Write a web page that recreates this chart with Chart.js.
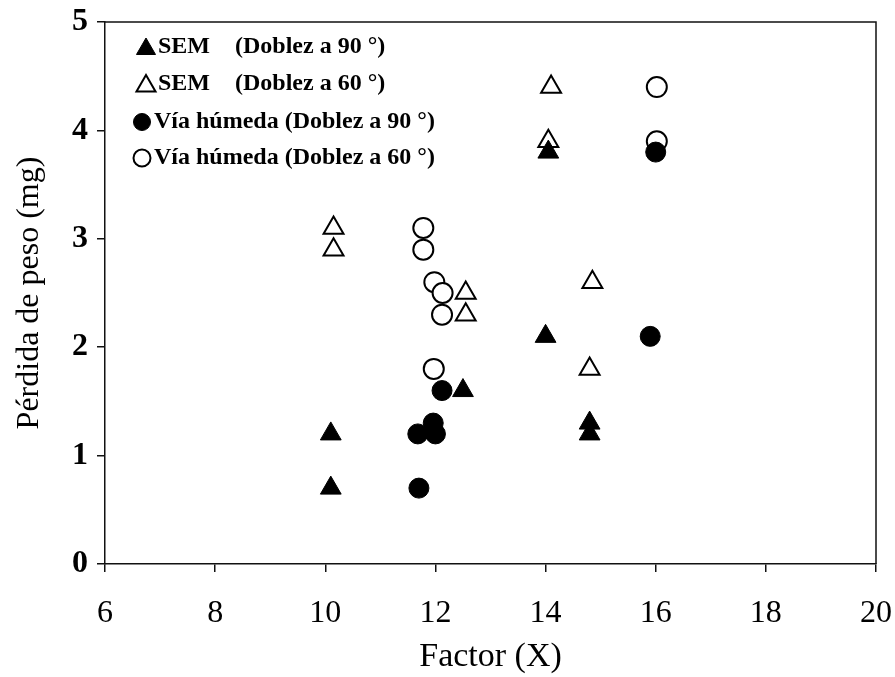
<!DOCTYPE html>
<html>
<head>
<meta charset="utf-8">
<script src="https://cdn.jsdelivr.net/npm/chart.js@4.4.0/dist/chart.umd.min.js"></script>
<style>
    html, body { margin: 0; padding: 0; background: #ffffff; }
    #wrap { width: 895px; height: 677px; position: relative; }
</style>
</head>
<body>
<div id="wrap"><canvas id="chart" width="895" height="677"></canvas></div>
<script>
// Pérdida de peso vs Factor (X)

const xTicks = [6, 8, 10, 12, 14, 16, 18, 20];
const yTicks = [0, 1, 2, 3, 4, 5];

const semName = 'SEM';
const viaName = 'Vía húmeda';
const note90 = '(Doblez a 90 °)';
const note60 = '(Doblez a 60 °)';

// SEM, doblez a 90 (filled triangles)
const sem90X = [10.1, 10.1, 12.5, 14.0, 14.05, 14.8, 14.8];
const sem90Y = [1.2, 0.7, 1.6, 2.1, 3.8, 1.3, 1.2];

// SEM, doblez a 60 (open triangles)
const sem60X = [10.15, 10.15, 12.55, 12.55, 14.1, 14.05, 14.85, 14.8];
const sem60Y = [3.1, 2.9, 2.5, 2.3, 4.4, 3.9, 2.6, 1.8];

// Vía húmeda, doblez a 90 (filled circles)
const via90X = [11.68, 11.96, 12.0, 11.7, 12.12, 15.9, 16.0];
const via90Y = [1.2, 1.3, 1.2, 0.7, 1.6, 2.1, 3.8];

// Vía húmeda, doblez a 60 (open circles)
const via60X = [11.78, 11.78, 11.98, 12.13, 12.12, 11.97, 16.02, 16.02];
const via60Y = [3.1, 2.9, 2.6, 2.5, 2.3, 1.8, 4.4, 3.9];

const FONT = "'Liberation Serif', 'Times New Roman', serif";

function toPoints(xs, ys) {
    return xs.map((x, i) => ({ x: x, y: ys[i] }));
}

function makeSet(name, note, xs, ys, style, filled, radius) {
    return {
        label: name + ' ' + note,
        name: name,
        note: note,
        data: toPoints(xs, ys),
        pointStyle: style,
        pointRadius: radius,
        pointHoverRadius: radius,
        backgroundColor: filled ? '#000000' : '#ffffff',
        borderColor: '#000000',
        borderWidth: filled ? 1 : 2,
        showLine: false
    };
}

// Box round the plot area
const framePlugin = {
    id: 'frame',
    afterDraw(chart) {
        const a = chart.chartArea;
        const ctx = chart.ctx;
        ctx.save();
        ctx.strokeStyle = '#111111';
        ctx.lineWidth = 1.5;
        ctx.beginPath();
        ctx.moveTo(a.left, a.top);
        ctx.lineTo(a.right, a.top);
        ctx.lineTo(a.right, a.bottom);
        ctx.stroke();
        ctx.restore();
    }
};

// Legend inside the plot, top left
const legendPlugin = {
    id: 'insideLegend',
    afterDraw(chart) {
        const ctx = chart.ctx;
        const rows = [47, 84, 122, 158];
        ctx.save();
        ctx.font = 'bold 24px ' + FONT;
        ctx.textBaseline = 'middle';
        chart.data.datasets.forEach((ds, i) => {
            const y = rows[i];
            const isTri = ds.pointStyle === 'triangle';
            const mx = isTri ? 146 : 142;
            ctx.fillStyle = ds.backgroundColor;
            ctx.strokeStyle = '#000000';
            ctx.lineWidth = ds.borderWidth;
            ctx.beginPath();
            if (isTri) {
                const r = 11;
                const cy = y + 2;
                ctx.moveTo(mx, cy - r);
                ctx.lineTo(mx + r * 0.866, cy + r * 0.5);
                ctx.lineTo(mx - r * 0.866, cy + r * 0.5);
                ctx.closePath();
            } else {
                ctx.arc(mx, y, 8.5, 0, Math.PI * 2);
            }
            ctx.fill();
            ctx.stroke();
            ctx.fillStyle = '#000000';
            const tx = isTri ? 158 : 154;
            ctx.fillText(ds.name, tx, y);
            const nameW = ctx.measureText(ds.name + ' ').width;
            ctx.fillText(ds.note, Math.max(235, tx + nameW), y);
        });
        ctx.restore();
    }
};

const ctx = document.getElementById('chart');
new Chart(ctx, {
    type: 'scatter',
    data: {
        datasets: [
            makeSet(semName, note90, sem90X, sem90Y, 'triangle', true, 12),
            makeSet(semName, note60, sem60X, sem60Y, 'triangle', false, 11.5),
            makeSet(viaName, note90, via90X, via90Y, 'circle', true, 10),
            makeSet(viaName, note60, via60X, via60Y, 'circle', false, 10)
        ]
    },
    options: {
        responsive: false,
        animation: false,
        layout: {
            padding: { top: 22, right: 19, left: 0, bottom: 0 }
        },
        plugins: {
            legend: { display: false },
            tooltip: { enabled: false }
        },
        scales: {
            x: {
                type: 'linear',
                min: xTicks[0],
                max: xTicks[xTicks.length - 1],
                afterBuildTicks: scale => {
                    scale.ticks = xTicks.map(v => ({ value: v }));
                },
                afterFit: scale => {
                    scale.height = 113;
                    scale.paddingLeft = 0;
                    scale.paddingRight = 0;
                },
                grid: {
                    drawOnChartArea: false,
                    drawTicks: true,
                    tickLength: 8,
                    color: '#111111',
                    lineWidth: 1.5
                },
                border: { display: true, color: '#111111', width: 1.5 },
                ticks: {
                    color: '#000000',
                    padding: 22,
                    font: { family: FONT, size: 32 }
                },
                title: {
                    display: true,
                    text: 'Factor (X)',
                    color: '#000000',
                    padding: { top: 4, bottom: 0 },
                    font: { family: FONT, size: 34 }
                }
            },
            y: {
                type: 'linear',
                min: yTicks[0],
                max: yTicks[yTicks.length - 1],
                afterBuildTicks: scale => {
                    scale.ticks = yTicks.map(v => ({ value: v }));
                },
                afterFit: scale => {
                    scale.width = 105;
                    scale.paddingTop = 0;
                    scale.paddingBottom = 0;
                },
                grid: {
                    drawOnChartArea: false,
                    drawTicks: true,
                    tickLength: 8,
                    color: '#111111',
                    lineWidth: 1.5
                },
                border: { display: true, color: '#111111', width: 1.5 },
                ticks: {
                    color: '#000000',
                    padding: 9,
                    font: { family: FONT, size: 32, weight: 'bold' }
                },
                title: {
                    display: true,
                    text: 'Pérdida de peso (mg)',
                    color: '#000000',
                    padding: { top: 10, bottom: 0 },
                    font: { family: FONT, size: 32 }
                }
            }
        }
    },
    plugins: [framePlugin, legendPlugin]
});
</script>
</body>
</html>
